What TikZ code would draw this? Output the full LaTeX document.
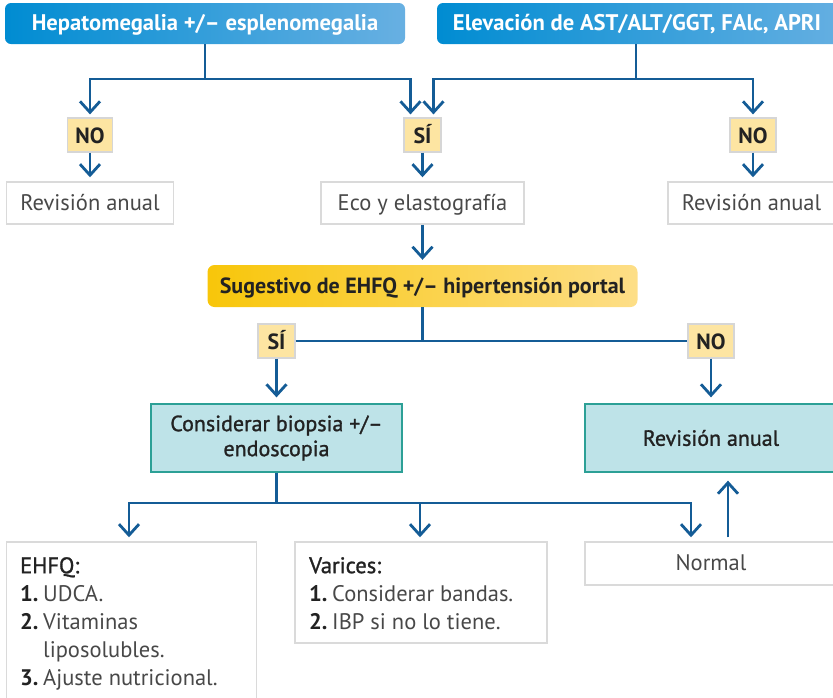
\documentclass[tikz,border=0pt]{standalone}
\usepackage{fontspec}
\setmainfont{PT Sans}
\newfontfamily\medfont{PT Sans}[FakeBold=1.2]
\usetikzlibrary{arrows.meta}

\definecolor{flowline}{RGB}{20,92,150}
\definecolor{hdrL}{RGB}{0,140,210}
\definecolor{hdrR}{RGB}{104,176,226}
\definecolor{decL}{RGB}{248,198,10}
\definecolor{decR}{RGB}{253,222,135}
\definecolor{tagfill}{RGB}{253,229,162}
\definecolor{tagline}{RGB}{214,214,214}
\definecolor{boxline}{RGB}{218,218,218}
\definecolor{tealfill}{RGB}{190,227,232}
\definecolor{tealline}{RGB}{44,160,150}
\definecolor{softtext}{RGB}{72,72,72}
\definecolor{darktext}{RGB}{34,34,34}

\newcommand\itemnum[1]{\makebox[23pt][l]{\bfseries\color{darktext}#1}}

\begin{document}
\begin{tikzpicture}[x=1pt,y=-1pt,
  oneline/.style={text height=17pt, text depth=3pt},
  hdrbox/.style={rounded corners=6pt, left color=hdrL, right color=hdrR,
    inner sep=0pt, minimum height=41pt},
  hdrtext/.style={oneline, text=white, font=\fontsize{22.6}{26}\selectfont\bfseries, inner sep=0pt},
  tagbox/.style={fill=tagfill, draw=tagline, line width=1.2pt, inner sep=0pt,
    text height=17.5pt, text depth=1.5pt,
    minimum height=34pt, text=darktext, font=\fontsize{22}{26}\selectfont\bfseries},
  plainbox/.style={oneline, fill=white, draw=boxline, line width=1.5pt, inner sep=0pt,
    minimum height=42pt, text=softtext, font=\fontsize{22.5}{26}\selectfont},
  decbox/.style={oneline, rounded corners=7pt, left color=decL, right color=decR,
    inner sep=0pt, minimum height=42pt, text=darktext,
    font=\fontsize{22}{26}\selectfont\bfseries},
  tealbox/.style={fill=tealfill, draw=tealline, line width=1.3pt, inner sep=0pt,
    minimum height=68pt, text=darktext, align=center,
    font=\fontsize{22}{25}\selectfont\medfont},
  listbox/.style={fill=white, draw=boxline, line width=1.5pt, inner sep=0pt},
  listtext/.style={inner sep=0pt, align=left, text=softtext,
    font=\fontsize{22.5}{28}\selectfont},
  flowln/.style={draw=flowline, line width=2.8pt},
  flowarr/.style={flowln, -{Straight Barb[length=11pt,width=20pt]}},
]
\useasboundingbox (0,0) rectangle (833,697);
\clip (0,0) rectangle (833,697);

% top row: the two entry findings
\node[hdrbox, minimum width=400pt] (hepato) at (205,23.5) {};
\node[hdrtext] at (hepato.center) {Hepatomegalia +/– esplenomegalia};
\node[hdrbox, minimum width=416pt] (elevbox) at (645,23.5) {};
\node[hdrtext] (elev) at (637,23.5) {Elevación de AST/ALT/GGT, FAlc, APRI};

% answer tags
\node[tagbox, minimum width=45pt] (no1) at (90,135) {NO};
\node[tagbox, minimum width=37pt] (si1) at (422.5,135) {SÍ};
\node[tagbox, minimum width=46pt] (no2) at (753,135) {NO};

% second row
\node[plainbox, minimum width=167pt] (rev1) at (90,203) {Revisión anual};
\node[plainbox, minimum width=203pt] (eco) at (422.5,203) {Eco y elastografía};
\node[plainbox, minimum width=167pt] (rev2) at (751.5,203) {Revisión anual};

% decision
\node[decbox, minimum width=430pt] (sug) at (422.5,286) {Sugestivo de EHFQ +/– hipertensión portal};
\node[tagbox, minimum width=37pt] (si2) at (276.5,341) {SÍ};
\node[tagbox, minimum width=46pt] (no3) at (711,341) {NO};

\node[tealbox, minimum width=251pt] (cons) at (276.5,438) {Considerar biopsia +/–\\endoscopia};
\node[tealbox, minimum width=252pt] (revb) at (711,438) {Revisión anual};

% bottom row
\node[listbox, minimum width=250pt, minimum height=170pt] (ehfqbox) at (131.5,627) {};
\node[listtext, anchor=north west] (ehfqtxt) at (20,557)
  {{\medfont\color{darktext}EHFQ:}\\
   \itemnum{1.}UDCA.\\
   \itemnum{2.}Vitaminas\\
   \itemnum{}liposolubles.\\
   \itemnum{3.}Ajuste nutricional.};
\node[listbox, minimum width=252pt, minimum height=101pt] (varbox) at (421,592.5) {};
\node[listtext, anchor=north west] (vartxt) at (309,557)
  {{\medfont\color{darktext}Varices:}\\
   \itemnum{1.}Considerar bandas.\\
   \itemnum{2.}IBP si no lo tiene.};
\node[plainbox, minimum width=252pt, minimum height=43pt] (normal) at (711,563.5) {Normal};

% connectors from the entry findings
\coordinate (hj) at (205,79);
\coordinate (ej) at (636,79);
\draw[flowln] (hepato.south -| hj) -- (hj);
\draw[flowarr, shorten >=3pt] (hj) -| (no1.north);
\draw[flowarr, shorten >=3pt] (hj) -| ([xshift=-12pt]si1.north);
\draw[flowln] (elevbox.south -| ej) -- (ej);
\draw[flowarr, shorten >=3pt] (ej) -| ([xshift=11pt]si1.north);
\draw[flowarr, shorten >=3pt] (ej) -| (no2.north);

\draw[flowarr, shorten >=4pt] (no1.south) -- (no1.south |- rev1.north);
\draw[flowarr, shorten >=4pt] (si1.south) -- (si1.south |- eco.north);
\draw[flowarr, shorten >=4pt] (no2.south) -- (no2.south |- rev2.north);
\draw[flowarr, shorten >=5pt] (eco.south) -- (eco.south |- sug.north);

% decision branches
\draw[flowln] (sug.south) -- (sug.south |- si2.east);
\draw[flowln] (si2.east) -- (no3.west);
\draw[flowarr, shorten >=6pt] (si2.south) -- (si2.south |- cons.north);
\draw[flowarr, shorten >=6pt] (no3.south) -- (no3.south |- revb.north);

% outcomes of biopsy / endoscopy
\coordinate (cj) at (276.5,503);
\draw[flowln] (cons.south) -- (cj);
\draw[flowarr, shorten >=4pt] (cj) -| ([xshift=-2.5pt]ehfqbox.north);
\draw[flowarr, shorten >=4pt] (cj) -| ([xshift=-1pt]varbox.north);
\draw[flowarr, shorten >=4pt] (cj) -| ([xshift=-20pt]normal.north);
\draw[flowarr, shorten <=4pt, shorten >=8pt] ([xshift=17pt]normal.north) -- ([xshift=17pt]revb.south);
\end{tikzpicture}
\end{document}
